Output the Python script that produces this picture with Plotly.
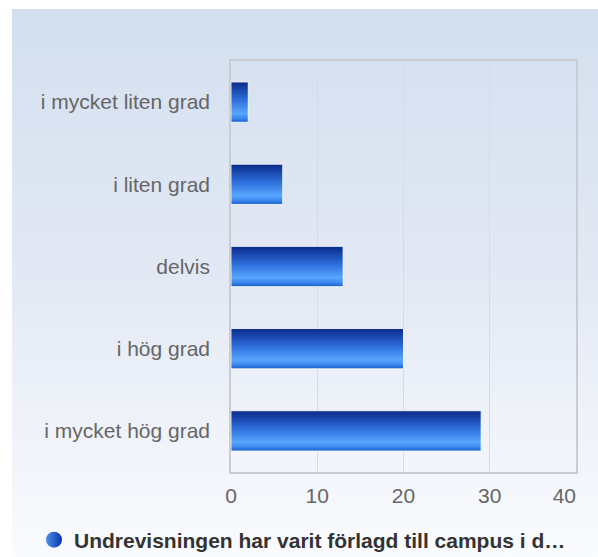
import base64
import plotly.graph_objects as go

# ---- data ----
categories = ["i mycket liten grad", "i liten grad", "delvis", "i hög grad", "i mycket hög grad"]
values = [2, 6, 13, 20, 29]
series_name = "Undrevisningen har varit förlagd till campus i d…"
x_ticks = [0, 10, 20, 30, 40]
x_tick_labels = ["0", "10", "20", "30", "40\u00a0\u00a0\u00a0\u00a0"]

# ---- layout geometry (pixels) ----
W, H = 598, 557
L, R, T, B = 231, 22, 61, 85
pw, ph = W - L - R, H - T - B

def px_x(p):
    return (p - L) / pw

def px_y(p):
    return (H - B - p) / ph

# background gradient panel as SVG data URI
svg = (
    '<svg xmlns="http://www.w3.org/2000/svg" width="100" height="100" preserveAspectRatio="none">'
    '<defs><linearGradient id="g" x1="0" y1="0" x2="0" y2="1">'
    '<stop offset="0" stop-color="#d3dfef"/>'
    '<stop offset="0.5" stop-color="#e3e9f4"/>'
    '<stop offset="1" stop-color="#fafbfe"/>'
    '</linearGradient></defs>'
    '<rect width="100" height="100" fill="url(#g)"/></svg>'
)
svg_uri = "data:image/svg+xml;base64," + base64.b64encode(svg.encode()).decode()

n = len(categories)
ypos = [n - 1 - i for i in range(n)]
half = 0.245

bar_scale = [
    [0.0, "#1a5ccc"],
    [0.1, "#3a88ee"],
    [0.22, "#58a6ff"],
    [0.55, "#2e6fdc"],
    [1.0, "#0a2a8a"],
]

fig = go.Figure()
for v, y in zip(values, ypos):
    fig.add_trace(go.Scatter(
        x=[0, v, v, 0, 0],
        y=[y - half, y - half, y + half, y + half, y - half],
        mode="lines",
        fill="toself",
        fillgradient=dict(type="vertical", colorscale=bar_scale),
        line=dict(color="rgba(255,255,255,0.85)", width=1),
        showlegend=False,
        hoverinfo="skip",
    ))

# legend entry
fig.add_trace(go.Scatter(
    x=[None], y=[None], mode="markers", name=series_name,
    marker=dict(symbol="circle", size=16, color="#4a90f0",
                gradient=dict(type="horizontal", color="#0b35a8"),
                line=dict(width=0)),
    showlegend=True,
))

fig.update_layout(
    width=W, height=H,
    margin=dict(l=L, r=R, t=T, b=B, autoexpand=False),
    paper_bgcolor="white",
    plot_bgcolor="rgba(0,0,0,0)",
    font=dict(family="Liberation Sans, Arial, sans-serif", color="#666666", size=21),
    images=[dict(
        source=svg_uri, xref="paper", yref="paper",
        x=px_x(12), y=px_y(9),
        sizex=px_x(W) - px_x(12), sizey=px_y(9) - px_y(H),
        xanchor="left", yanchor="top", sizing="stretch", layer="below",
    )],
    showlegend=True,
    legend=dict(
        orientation="h", xref="container", yref="container",
        x=34 / W, y=(H - 540) / H, xanchor="left", yanchor="middle",
        font=dict(family="Liberation Sans, Arial, sans-serif", size=21, color="#333333", weight="bold"),
        bgcolor="rgba(0,0,0,0)", itemsizing="trace",
    ),
    xaxis=dict(
        range=[0, 40], tickvals=x_ticks, ticktext=x_tick_labels,
        showgrid=True, gridcolor="#d9dbe0", gridwidth=1,
        zeroline=False, showline=True, linecolor="#c9ccd2", linewidth=1.5, mirror=True,
        ticks="", ticklabelstandoff=4, ticklabeloverflow="allow",
        tickfont=dict(size=21, color="#666666"),
    ),
    yaxis=dict(
        range=[-0.5, n - 0.5], tickvals=ypos, ticktext=categories, showgrid=False,
        zeroline=False, showline=True, linecolor="#c9ccd2", linewidth=1.5, mirror=True,
        ticks="", ticklabelstandoff=15, tickfont=dict(size=21, color="#666666"),
    ),
)

fig.write_html(
    "out.html",
    config={"displayModeBar": False},
    post_script="document.body.style.margin='0';document.body.style.overflow='hidden';",
)
